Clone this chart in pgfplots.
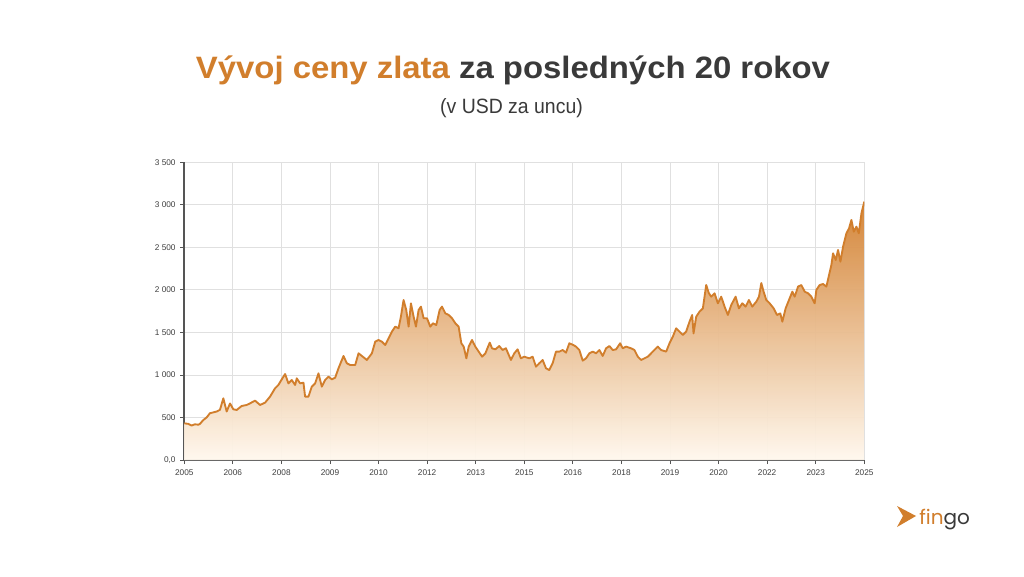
\documentclass[border=0pt]{standalone}
\usepackage{fontspec}
\setmainfont{Liberation Sans}
\newfontfamily\poppins{Poppins}
\usepackage{graphicx}
\usepackage{pgfplots}
\usepackage{pgfplotstable}
\pgfplotsset{compat=1.18}
\definecolor{gold}{HTML}{D17E2C}
\definecolor{goldtop}{HTML}{D3802F}
\definecolor{goldbot}{HTML}{FFF8EE}
\definecolor{titlegray}{HTML}{3A3A3A}
\definecolor{gridgray}{HTML}{E0E0E0}
\definecolor{axisgray}{HTML}{555555}
\definecolor{tickgray}{HTML}{3F3F3F}

\pgfplotstableread{
x y
0.000 431
0.082 425
0.151 405
0.220 420
0.289 415
0.323 425
0.392 470
0.460 500
0.529 550
0.600 560
0.667 570
0.735 590
0.804 725
0.873 570
0.942 665
1.010 596
1.079 588
1.182 635
1.285 647
1.354 666
1.457 698
1.560 647
1.663 674
1.766 745
1.869 843
1.938 882
2.007 948
2.076 1011
2.144 901
2.213 940
2.282 882
2.316 960
2.385 901
2.454 909
2.488 745
2.557 745
2.625 862
2.694 901
2.763 1019
2.832 862
2.900 940
2.969 980
3.038 948
3.107 968
3.175 1078
3.278 1223
3.347 1137
3.416 1117
3.519 1117
3.588 1254
3.656 1223
3.759 1176
3.863 1254
3.931 1391
4.000 1411
4.069 1391
4.137 1352
4.206 1430
4.275 1509
4.344 1568
4.412 1548
4.460 1685
4.515 1881
4.570 1764
4.619 1568
4.667 1842
4.722 1685
4.770 1568
4.825 1764
4.873 1803
4.928 1666
4.997 1666
5.065 1568
5.120 1607
5.189 1587
5.258 1764
5.306 1803
5.375 1724
5.443 1705
5.512 1666
5.581 1607
5.649 1568
5.704 1372
5.753 1333
5.808 1195
5.856 1333
5.924 1411
5.993 1333
6.062 1274
6.131 1215
6.199 1254
6.289 1380
6.337 1313
6.405 1301
6.485 1340
6.553 1293
6.622 1313
6.725 1176
6.794 1254
6.863 1301
6.931 1195
7.000 1215
7.103 1195
7.172 1215
7.241 1097
7.309 1137
7.378 1176
7.447 1078
7.515 1058
7.584 1137
7.653 1274
7.722 1274
7.790 1293
7.859 1262
7.928 1372
8.010 1352
8.065 1333
8.134 1293
8.203 1168
8.271 1195
8.340 1254
8.409 1274
8.478 1254
8.546 1293
8.615 1223
8.684 1313
8.753 1340
8.821 1293
8.890 1301
8.973 1372
9.027 1313
9.096 1333
9.199 1313
9.268 1293
9.337 1215
9.405 1176
9.474 1195
9.543 1215
9.646 1274
9.749 1333
9.818 1293
9.921 1274
9.990 1372
10.058 1450
10.127 1548
10.196 1509
10.265 1470
10.333 1509
10.402 1626
10.457 1705
10.485 1489
10.540 1685
10.608 1744
10.677 1783
10.746 2057
10.801 1960
10.849 1920
10.918 1960
10.986 1842
11.055 1920
11.124 1803
11.192 1705
11.261 1822
11.351 1920
11.419 1783
11.488 1842
11.557 1803
11.625 1881
11.694 1803
11.777 1861
11.832 1920
11.880 2080
11.928 1979
11.983 1881
12.052 1842
12.134 1783
12.203 1705
12.271 1724
12.313 1626
12.381 1783
12.450 1881
12.519 1979
12.567 1920
12.636 2038
12.704 2057
12.773 1979
12.842 1960
12.911 1920
12.979 1842
13.014 2000
13.082 2057
13.151 2069
13.220 2038
13.275 2175
13.323 2293
13.357 2430
13.412 2351
13.460 2469
13.509 2332
13.564 2508
13.632 2665
13.687 2724
13.735 2822
13.784 2684
13.838 2743
13.887 2665
13.942 2900
14.000 3037
}\golddata

\begin{document}
\begin{tikzpicture}[x=0.75pt,y=0.75pt]
\path[fill=white] (0,0) rectangle (1024,576);
% title
\node[anchor=base, inner sep=0pt] at (513,498)
  {\resizebox{475.5pt}{17pt}{\bfseries\textcolor{gold}{Vývoj ceny zlata} \textcolor{titlegray}{za posledných 20 rokov}}};
\node[anchor=base, inner sep=0pt, text=titlegray] at (511.5,462.7)
  {\resizebox{107pt}{11.25pt}{(v USD za uncu)}};
% logo
\fill[gold] (897,70) -- (916,60) -- (897,49) -- (903,60) -- cycle;
\node[anchor=base west, inner sep=0pt] at (919,52)
  {\resizebox{38pt}{!}{\poppins\textcolor{gold}{fin}\textcolor{titlegray}{go}}};

\begin{axis}[
  at={(138.2pt,87pt)}, anchor=south west,
  scale only axis, width=510pt, height=223.3pt,
  xmin=0, xmax=14, ymin=0, ymax=3500,
  axis x line*=bottom, axis y line*=left,
  x axis line style={line width=1pt, axisgray},
  y axis line style={line width=1.5pt, axisgray},
  xtick={0,...,14},
  xticklabels={2005,2006,2008,2009,2010,2012,2013,2015,2016,2018,2019,2020,2022,2023,2025},
  ytick={0,500,1000,1500,2000,2500,3000,3500},
  yticklabels={{0,0},500,{1 000},{1 500},{2 000},{2 500},{3 000},{3 500}},
  tick align=outside, major tick length=3pt,
  tick style={axisgray, line width=0.6pt},
  grid=major, major grid style={gridgray, line width=0.6pt},
  ticklabel style={font=\fontsize{6.2}{7}\selectfont, text=tickgray},
  /pgf/number format/assume math mode=true,
  xticklabel style={yshift=-1pt},
  axis on top=false,
]
\addplot[draw=none, top color=goldtop, bottom color=goldbot, fill opacity=0.95] table[x=x,y=y] {\golddata} \closedcycle;
\addplot[gold, line width=1.4pt, line join=round] table[x=x,y=y] {\golddata};
\end{axis}
\end{tikzpicture}
\end{document}
